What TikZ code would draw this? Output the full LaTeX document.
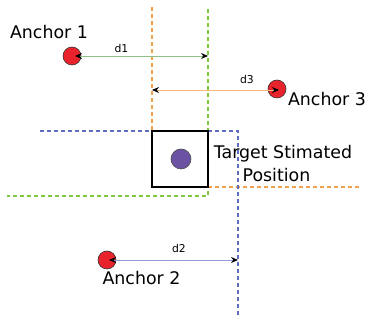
\documentclass[tikz,border=0pt]{standalone}
\usepackage{fontspec}
\setmainfont{DejaVu Sans}
\usetikzlibrary{arrows.meta}
\definecolor{anchred}{HTML}{E8232B}
\definecolor{tgtpurple}{HTML}{6C52A3}
\definecolor{dorange}{HTML}{F0A050}
\definecolor{dgreen}{HTML}{80C840}
\definecolor{dblue}{HTML}{5F6CC0}
\definecolor{lgreen}{HTML}{90C088}
\definecolor{lorange}{HTML}{F8BA7C}
\definecolor{lblue}{HTML}{949CD2}
\tikzset{
  anchorpt/.style={circle, draw=black!80, line width=0.6pt, fill=anchred, minimum size=18pt, inner sep=0pt},
  tgtpt/.style={circle, draw=black!70, line width=0.6pt, fill=tgtpurple, minimum size=20pt, inner sep=0pt},
  boxst/.style={draw=black, line width=1.8pt, minimum size=56pt, inner sep=0pt},
  guide/.style={dashed, dash pattern=on 4pt off 3pt, line width=1.1pt},
  dist/.style={line width=0.9pt, arrows={Stealth[black,length=7pt,width=6pt]-Stealth[black,length=7pt,width=6pt]}},
  bigtxt/.style={font=\fontsize{17.4}{20}\selectfont, inner sep=0pt, anchor=base},
  smalltxt/.style={font=\fontsize{10.8}{12}\selectfont, inner sep=0pt, anchor=base}
}
\begin{document}
\begin{tikzpicture}[x=1pt,y=-1pt]
\useasboundingbox (0,0) rectangle (368,320);
% guide lines
\coordinate (og1) at (152,7);
\coordinate (og2) at (152,131);
\coordinate (oh1) at (208,187);
\coordinate (oh2) at (362,187);
\coordinate (gv1) at (208,9);
\coordinate (gv2) at (208,196);
\coordinate (gh1) at (7,196);
\coordinate (bh1) at (40,131);
\coordinate (bh2) at (238,131);
\coordinate (bv2) at (238,318);
\draw[guide, dorange] (og1) -- (og2);
\draw[guide, dorange] (oh1) -- (oh2);
\draw[guide, dgreen] (gv1) -- (gv2) -- (gh1);
\draw[guide, dblue] (bh1) -- (bh2) -- (bv2);
% box and target
\node[boxst] (box) at (180,159) {};
\node[tgtpt] (tgt) at (181,159) {};
% anchors
\node[anchorpt] (a1) at (72,56) {};
\node[anchorpt] (a3) at (277,89) {};
\node[anchorpt] (a2) at (107,260) {};
% distance endpoints
\coordinate (e1) at (208,56);
\coordinate (e3) at (152,90);
\coordinate (e2) at (238,260);
\draw[dist, lgreen] ([xshift=3pt]a1.center) -- (e1);
\draw[dist, lorange] (e3) -- ([xshift=2pt,yshift=-1pt]a3.center);
\draw[dist, lblue] ([xshift=2pt]a2.center) -- (e2);
% labels
\node[smalltxt] (l1) at (121.5,52.5) {d1};
\node[smalltxt] (l3) at (247,84) {d3};
\node[smalltxt] (l2) at (179,253) {d2};
\node[bigtxt] (t1) at (49,39) {Anchor 1};
\node[bigtxt] (t3) at (327,106) {Anchor 3};
\node[bigtxt] (t2) at (141.5,285) {Anchor 2};
\node[bigtxt] (tt1) at (283,159) {Target Stimated};
\node[bigtxt] (tt2) at (276.5,181.5) {Position};
\end{tikzpicture}
\end{document}
